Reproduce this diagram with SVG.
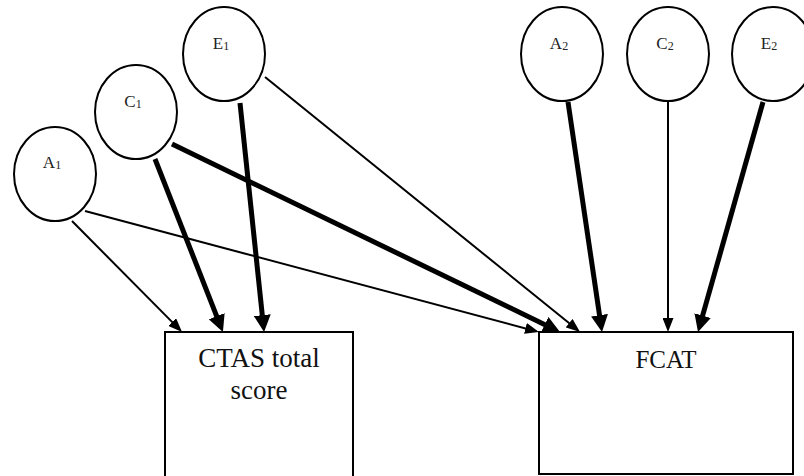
<svg xmlns="http://www.w3.org/2000/svg" width="804" height="476" viewBox="0 0 804 476">
<style>
.node ellipse{fill:#fff;stroke:#000;stroke-width:2}
.box rect{fill:#fff;stroke:#000;stroke-width:2}
.lbl{font-family:"Liberation Serif","DejaVu Serif",serif;font-size:17px;fill:#222;text-anchor:middle}
.sub{font-size:12px}
.big{font-family:"Liberation Serif","DejaVu Serif",serif;font-size:27px;fill:#111;text-anchor:middle}
.thin{stroke:#000;stroke-width:2;fill:none;marker-end:url(#ah)}
.thick{stroke:#000;stroke-width:5;fill:none;marker-end:url(#ahb)}
</style>
<defs>
<marker id="ah" markerUnits="userSpaceOnUse" markerWidth="14" markerHeight="11" refX="5" refY="5.5" orient="auto">
<path d="M0,0 L14,5.5 L0,11 z" fill="#000"/>
</marker>
<marker id="ahb" markerUnits="userSpaceOnUse" markerWidth="17" markerHeight="17" refX="6" refY="8.5" orient="auto">
<path d="M0,0 L17,8.5 L0,17 z" fill="#000"/>
</marker>
</defs>
<rect width="804" height="476" fill="#fff"/>
<g id="ctas" class="box">
<rect x="165" y="332" width="188" height="150"/>
<text class="big" x="259" y="367">CTAS total</text>
<text class="big" x="259" y="399">score</text>
</g>
<g id="fcat" class="box">
<rect x="539" y="332" width="254" height="142"/>
<text class="big" x="666" y="368" style="font-size:25px">FCAT</text>
</g>
<g id="connectors">
<line class="thin" x1="72" y1="221" x2="175.7" y2="325.6"/>
<line class="thick" x1="155" y1="159" x2="218.9" y2="321.8"/>
<line class="thick" x1="240" y1="103" x2="262.9" y2="321.1"/>
<line class="thin" x1="85" y1="211" x2="530.3" y2="329.7"/>
<line class="thick" x1="172" y1="144" x2="550.1" y2="327.2"/>
<line class="thin" x1="265" y1="77" x2="573" y2="326.3"/>
<line class="thick" x1="568" y1="102" x2="600.4" y2="321.1"/>
<line class="thin" x1="668" y1="102" x2="668" y2="323"/>
<line class="thick" x1="763" y1="102" x2="701" y2="321.4"/>
</g>
<g id="A1" class="node"><ellipse cx="55" cy="174" rx="41" ry="47"/><text class="lbl" x="52" y="168">A<tspan class="sub" dy="1">1</tspan></text></g>
<g id="C1" class="node"><ellipse cx="136" cy="112" rx="41" ry="47"/><text class="lbl" x="133" y="107">C<tspan class="sub" dy="1">1</tspan></text></g>
<g id="E1" class="node"><ellipse cx="224" cy="54" rx="41" ry="47"/><text class="lbl" x="221" y="49">E<tspan class="sub" dy="1">1</tspan></text></g>
<g id="A2" class="node"><ellipse cx="562" cy="54" rx="41" ry="47"/><text class="lbl" x="559" y="49">A<tspan class="sub" dy="1">2</tspan></text></g>
<g id="C2" class="node"><ellipse cx="668" cy="54" rx="41" ry="47"/><text class="lbl" x="665" y="49">C<tspan class="sub" dy="1">2</tspan></text></g>
<g id="E2" class="node"><ellipse cx="773" cy="54" rx="41" ry="47"/><text class="lbl" x="769" y="49">E<tspan class="sub" dy="1">2</tspan></text></g>
</svg>
